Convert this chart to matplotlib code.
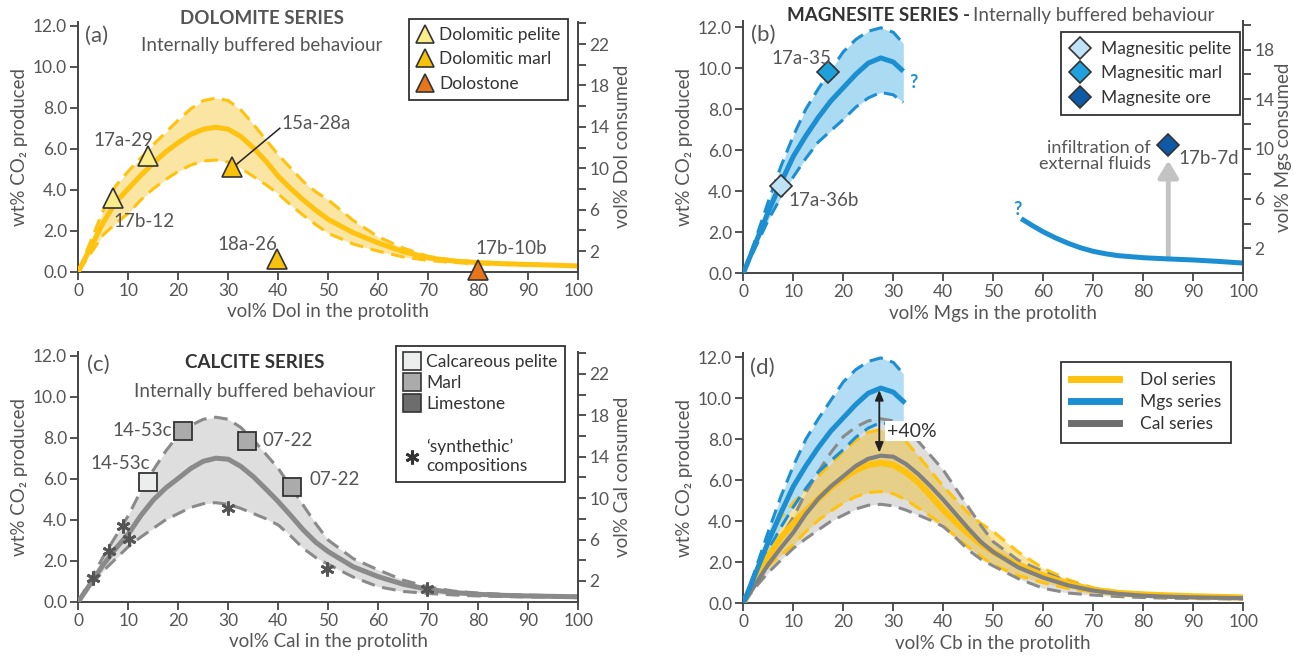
import matplotlib.pyplot as plt
from matplotlib.lines import Line2D

plt.rcParams['font.family'] = ['Lato', 'DejaVu Sans']

# ---- model curves (wt% CO2 produced vs vol% carbonate in protolith) ----
cb_x = [0, 2.5, 5, 7.5, 10, 12.5, 15, 17.5, 20, 22.5, 25, 27.5, 30, 32.5, 35,
        37.5, 40, 42.5, 45, 47.5, 50, 55, 60, 65, 70, 75, 80, 85, 90, 95, 100]

dol_mean = [0, 1.2, 2.4, 3.4, 4.05, 4.7, 5.3, 5.85, 6.3, 6.7, 6.95, 7.05, 6.95, 6.6, 6.05,
            5.4, 4.65, 4.05, 3.5, 3.0, 2.55, 1.9, 1.4, 0.98, 0.68, 0.52, 0.44, 0.39, 0.35, 0.32, 0.28]
dol_upper = [0, 1.5, 3.0, 4.2, 4.9, 5.55, 6.2, 6.8, 7.4, 7.95, 8.35, 8.47, 8.35, 7.9, 7.2,
             6.45, 5.7, 5.05, 4.4, 3.9, 3.5, 2.5, 1.7, 1.15, 0.75, 0.57, 0.48, 0.42, 0.38, 0.34, 0.3]
dol_lower = [0, 0.9, 1.8, 2.35, 2.85, 3.5, 4.05, 4.5, 4.9, 5.2, 5.4, 5.45, 5.35, 5.05, 4.65,
             4.25, 3.8, 3.25, 2.75, 2.3, 1.87, 1.35, 1.0, 0.72, 0.55, 0.45, 0.38, 0.35, 0.32, 0.3, 0.26]

cal_mean = [0, 0.9, 1.8, 2.6, 3.3, 4.2, 4.96, 5.55, 6.02, 6.5, 6.85, 7.0, 6.95, 6.6, 6.1,
            5.5, 4.88, 4.2, 3.5, 2.9, 2.44, 1.7, 1.22, 0.85, 0.6, 0.45, 0.36, 0.31, 0.28, 0.26, 0.24]
cal_upper = [0, 1.1, 2.2, 3.2, 4.2, 5.4, 6.42, 7.35, 8.13, 8.6, 8.9, 9.0, 8.9, 8.5, 7.9,
             7.2, 6.5, 5.6, 4.7, 3.8, 3.0, 2.1, 1.55, 1.05, 0.72, 0.52, 0.42, 0.36, 0.32, 0.3, 0.27]
cal_lower = [0, 0.8, 1.5, 2.1, 2.68, 3.15, 3.58, 4.0, 4.3, 4.6, 4.78, 4.83, 4.75, 4.55, 4.3,
             4.05, 3.74, 3.2, 2.6, 2.15, 1.82, 1.2, 0.73, 0.5, 0.4, 0.33, 0.28, 0.25, 0.23, 0.22, 0.2]

# panel (d) mean curves as drawn in the comparison plot
dol_mean_d = [0, 1.15, 2.3, 3.2, 3.9, 4.5, 5.1, 5.65, 6.1, 6.5, 6.75, 6.85, 6.75, 6.4, 5.9,
              5.25, 4.55, 3.95, 3.4, 2.9, 2.5, 1.85, 1.35, 0.95, 0.66, 0.5, 0.43, 0.38, 0.34, 0.31, 0.28]
cal_mean_d = [0, 0.95, 1.9, 2.7, 3.45, 4.35, 5.1, 5.7, 6.2, 6.7, 7.05, 7.2, 7.15, 6.8, 6.3,
              5.7, 5.05, 4.35, 3.65, 3.0, 2.5, 1.75, 1.25, 0.87, 0.62, 0.46, 0.37, 0.32, 0.29, 0.27, 0.25]

mgs_x = [0, 2.5, 5, 7.5, 10, 12.5, 15, 17.5, 20, 22.5, 25, 27.5, 30, 32]
mgs_mean = [0, 1.5, 3.0, 4.4, 5.7, 6.7, 7.6, 8.4, 9.05, 9.7, 10.25, 10.5, 10.3, 9.85]
mgs_upper = [0, 1.7, 3.5, 5.2, 6.7, 8.0, 9.0, 9.9, 10.8, 11.4, 11.8, 11.97, 11.75, 11.2]
mgs_lower = [0, 1.3, 2.6, 3.7, 4.7, 5.6, 6.4, 6.95, 7.5, 8.1, 8.55, 8.82, 8.7, 8.33]
mgs_tail_x = [56, 58, 60, 62.5, 65, 67.5, 70, 72.5, 75, 80, 85, 90, 95, 100]
mgs_tail_y = [2.6, 2.3, 2.02, 1.72, 1.46, 1.24, 1.07, 0.95, 0.86, 0.76, 0.7, 0.65, 0.58, 0.5]

# ---- samples ----
dol_pelite_x, dol_pelite_y = [7.0, 14.0], [3.58, 5.64]
dol_marl_x, dol_marl_y = [30.8, 39.8], [5.12, 0.6]
dolostone_x, dolostone_y = [80.0], [0.08]

mgs_pelite_x, mgs_pelite_y = [7.5], [4.25]
mgs_marl_x, mgs_marl_y = [17.0], [9.8]
mgs_ore_x, mgs_ore_y = [85.0], [6.25]

cal_pelite_x, cal_pelite_y = [13.9], [5.82]
cal_marl_x, cal_marl_y = [21.0, 33.7, 42.7], [8.34, 7.85, 5.58]
synth_x = [3.0, 6.1, 9.0, 10.2, 30.0, 49.7, 69.8]
synth_y = [1.14, 2.49, 3.69, 3.04, 4.55, 1.58, 0.6]

# ---- colours ----
YEL = '#ffc20e'
YEL_FILL = '#f5b700'
BLUE = '#1b8fd2'
BLUE_FILL = '#abdaf3'
GRAY = '#8a8a8a'
GRAY_FILL = '#dedede'
TXT = '#555555'
AX = '#444444'

W, H = 1293, 663
fig = plt.figure(figsize=(W / 100, H / 100), dpi=100)


def px_axes(x0, x1, y_top, y_bot):
    return fig.add_axes([x0 / W, 1 - y_bot / H, (x1 - x0) / W, (y_bot - y_top) / H])


def style(ax, xlabel, ytop):
    ax.set_xlim(0, 100)
    ax.set_ylim(0, ytop)
    ax.set_xticks(range(0, 101, 10))
    ax.set_yticks([0, 2, 4, 6, 8, 10, 12])
    ax.set_yticklabels([f'{v:.1f}' for v in [0, 2, 4, 6, 8, 10, 12]])
    ax.tick_params(direction='out', length=6, width=1.3, colors=AX, labelcolor=TXT,
                   labelsize=12.5, pad=2)
    ax.spines['top'].set_visible(False)
    ax.spines['right'].set_visible(False)
    for s in ['left', 'bottom']:
        ax.spines[s].set_color(AX)
        ax.spines[s].set_linewidth(1.4)
    ax.set_xlabel(xlabel, fontsize=13.5, color=TXT, labelpad=3)
    ax.set_ylabel('wt% CO₂ produced', fontsize=13.5, color=TXT, labelpad=4)


def right_axis(ax, factor, label, majors, minors, pad=3):
    r = ax.twinx()
    lo, hi = ax.get_ylim()
    r.set_ylim(lo * factor, hi * factor)
    r.set_yticks(majors)
    r.set_yticks(minors, minor=True)
    r.tick_params(which='both', direction='out', length=6, width=1.3, colors=AX,
                  labelcolor=TXT, labelsize=12.5, pad=2)
    for s in ['top', 'left', 'bottom']:
        r.spines[s].set_visible(False)
    r.spines['right'].set_color(AX)
    r.spines['right'].set_linewidth(1.4)
    r.set_ylabel(label, fontsize=13.5, color=TXT, labelpad=pad)
    return r


def band(ax, x, lo, mid, hi, col, fill, fill_alpha=1.0, mid_lw=3.6, z=2):
    ax.fill_between(x, lo, hi, color=fill, alpha=fill_alpha, lw=0, zorder=z)
    ax.plot(x, hi, color=col, lw=2.2, dashes=(4.5, 2.5), zorder=z + 1)
    ax.plot(x, lo, color=col, lw=2.2, dashes=(4.5, 2.5), zorder=z + 1)
    ax.plot(x, mid, color=col, lw=mid_lw, solid_capstyle='butt', zorder=z + 2)


def legend(ax, handles, labels, anchor, **kw):
    lg = ax.legend(handles, labels, loc='upper left', bbox_to_anchor=anchor,
                   borderaxespad=0, fancybox=False, framealpha=1, edgecolor='#333333',
                   fontsize=12.5, labelcolor='#333333', **kw)
    lg.get_frame().set_linewidth(1.3)
    lg.set_zorder(20)
    return lg


def mk(marker, face, size):
    return Line2D([], [], marker=marker, color='none', markerfacecolor=face,
                  markeredgecolor='#333333', markeredgewidth=1.2, markersize=size)


# ================= (a) Dolomite =================
ax = px_axes(78.3, 578.3, 21.7, 271.7)
style(ax, 'vol% Dol in the protolith', 12.2)
band(ax, cb_x, dol_lower, dol_mean, dol_upper, YEL, YEL_FILL, fill_alpha=0.36)
tri = dict(marker='^', ls='none', mec='#333333', mew=1.2, ms=14, zorder=6, clip_on=False)
ax.plot(dol_pelite_x, dol_pelite_y, mfc='#fbee8a', **tri)
ax.plot(dol_marl_x, dol_marl_y, mfc='#f7c20c', **tri)
ax.plot(dolostone_x, dolostone_y, mfc='#e8751a', **tri)
lab = dict(fontsize=13.5, color=TXT, va='center', zorder=7)
ax.text(15, 6.42, '17a-29', ha='right', **lab)
ax.text(7.0, 2.44, '17b-12', ha='left', **lab)
ax.text(40.7, 7.24, '15a-28a', ha='left', **lab)
ax.plot([31.7, 40.3], [5.25, 7.0], color='#222222', lw=1.1, zorder=7)
ax.text(39.8, 1.35, '18a-26', ha='right', **lab)
ax.text(79.5, 1.15, '17b-10b', ha='left', **lab)
ax.text(1.3, 11.5, '(a)', fontsize=16, color=TXT, va='center')
ax.text(36.7, 12.35, 'DOLOMITE SERIES', fontsize=13.5, fontweight='bold', color=TXT,
        ha='center', va='center', clip_on=False)
ax.text(36.7, 11.05, 'Internally buffered behaviour', fontsize=13.5, color=TXT,
        ha='center', va='center')
right_axis(ax, 1.98, 'vol% Dol consumed', [2, 6, 10, 14, 18, 22], [4, 8, 12, 16, 20, 24])
legend(ax, [mk('^', '#fbee8a', 13), mk('^', '#f7c20c', 13), mk('^', '#e8751a', 13)],
       ['Dolomitic pelite', 'Dolomitic marl', 'Dolostone'], (0.661, 1.011),
       handlelength=1.0, handletextpad=0.3, labelspacing=0.5, borderpad=0.45)

# ================= (b) Magnesite =================
ax = px_axes(743.3, 1243.3, 21.0, 273.3)
style(ax, 'vol% Mgs in the protolith', 12.3)
band(ax, mgs_x, mgs_lower, mgs_mean, mgs_upper, BLUE, BLUE_FILL)
ax.plot(mgs_tail_x, mgs_tail_y, color=BLUE, lw=3.6, zorder=4)
ax.annotate('', xy=(85.0, 5.5), xytext=(85.0, 0.75),
            arrowprops=dict(arrowstyle='-|>,head_width=0.6,head_length=1.0',
                            color='#c3c3c3', lw=3.5, shrinkA=0, shrinkB=0), zorder=3)
dia = dict(marker='D', ls='none', mec='#333333', mew=1.2, ms=11, zorder=6)
ax.plot(mgs_pelite_x, mgs_pelite_y, mfc='#bfe2f7', **dia)
ax.plot(mgs_marl_x, mgs_marl_y, mfc='#1ea0dd', **dia)
ax.plot(mgs_ore_x, mgs_ore_y, mfc='#0f5aa6', **dia)
ax.text(17.7, 10.45, '17a-35', ha='right', **lab)
ax.text(9.0, 3.54, '17a-36b', ha='left', **lab)
ax.text(87.0, 5.6, '17b-7d', ha='left', **lab)
ax.text(81.5, 5.7, 'infiltration of\nexternal fluids', ha='right', va='center',
        fontsize=13, color=TXT, linespacing=1.0)
ax.text(34, 9.3, '?', fontsize=13, fontweight='bold', color=BLUE, ha='center', va='center')
ax.text(54.8, 3.1, '?', fontsize=13, fontweight='bold', color=BLUE, ha='center', va='center')
ax.text(1.5, 11.6, '(b)', fontsize=16, color=TXT, va='center')
ax.text(45.3, 12.55, 'MAGNESITE SERIES -', fontsize=13.5, fontweight='bold', color='#333333',
        ha='right', va='center', clip_on=False)
ax.text(46.0, 12.55, 'Internally buffered behaviour', fontsize=13.5, color=TXT,
        ha='left', va='center', clip_on=False)
right_axis(ax, 1.65, 'vol% Mgs consumed', [2, 6, 10, 14, 18], [4, 8, 12, 16, 20], pad=0)
legend(ax, [mk('D', '#bfe2f7', 11), mk('D', '#1ea0dd', 11), mk('D', '#0f5aa6', 11)],
       ['Magnesitic pelite', 'Magnesitic marl', 'Magnesite ore'], (0.635, 0.956),
       handlelength=1.2, handletextpad=0.6, labelspacing=0.5, borderpad=0.5)

# ================= (c) Calcite =================
ax = px_axes(78.3, 578.3, 351.6, 601.7)
style(ax, 'vol% Cal in the protolith', 12.2)
band(ax, cb_x, cal_lower, cal_mean, cal_upper, GRAY, GRAY_FILL)
sq = dict(marker='s', ls='none', mec='#333333', mew=1.3, ms=13, zorder=6)
ax.plot(cal_pelite_x, cal_pelite_y, mfc='#eceeed', **sq)
ax.plot(cal_marl_x, cal_marl_y, mfc='#ababab', **sq)
ax.plot(synth_x, synth_y, marker=(6, 2, 0), ls='none', color='#555555', mew=2.0, ms=10,
        zorder=6)
ax.text(18.8, 8.37, '14-53c', ha='right', **lab)
ax.text(36.9, 7.88, '07-22', ha='left', **lab)
ax.text(14.3, 6.72, '14-53c', ha='right', **lab)
ax.text(46.2, 5.94, '07-22', ha='left', **lab)
ax.text(1.7, 11.55, '(c)', fontsize=16, color=TXT, va='center')
ax.text(35.2, 11.65, 'CALCITE SERIES', fontsize=13.5, fontweight='bold', color='#333333',
        ha='center', va='center')
ax.text(35.2, 10.25, 'Internally buffered behaviour', fontsize=13.5, color=TXT,
        ha='center', va='center')
right_axis(ax, 1.98, 'vol% Cal consumed', [2, 6, 10, 14, 18, 22], [4, 8, 12, 16, 20, 24])
blank = Line2D([], [], color='none')
star = Line2D([], [], marker=(6, 2, 0), color='#333333', ls='none', mew=2.0, ms=10)
legend(ax, [mk('s', '#eceeed', 13), mk('s', '#ababab', 13), mk('s', '#6d6d6d', 13), blank, star],
       ['Calcareous pelite', 'Marl', 'Limestone', '', '‘synthethic’\ncompositions'],
       (0.635, 1.022), handlelength=1.0, handletextpad=0.3, labelspacing=0.3, borderpad=0.45)

# ================= (d) Comparison =================
ax = px_axes(743.3, 1243.3, 353.2, 603.3)
style(ax, 'vol% Cb in the protolith', 12.2)
ax.fill_between(cb_x, cal_lower, cal_upper, color=GRAY_FILL, lw=0, zorder=1)
ax.fill_between(cb_x, dol_lower, dol_upper, color=YEL_FILL, alpha=0.38, lw=0, zorder=2)
ax.fill_between(mgs_x, mgs_lower, mgs_upper, color=BLUE_FILL, alpha=0.9, lw=0, zorder=3)
for ys in (dol_lower, dol_upper):
    ax.plot(cb_x, ys, color=YEL, lw=2.2, dashes=(4.5, 2.5), zorder=4)
for ys in (cal_lower, cal_upper):
    ax.plot(cb_x, ys, color=GRAY, lw=2.2, dashes=(4.5, 2.5), zorder=5)
for ys in (mgs_lower, mgs_upper):
    ax.plot(mgs_x, ys, color=BLUE, lw=2.2, dashes=(4.5, 2.5), zorder=5)
ax.plot(cb_x, dol_mean_d, color=YEL, lw=4.5, zorder=6)
ax.plot(cb_x, cal_mean_d, color='#808080', lw=3.0, zorder=7)
ax.plot(mgs_x, mgs_mean, color=BLUE, lw=3.6, zorder=7)
ax.annotate('', xy=(27.2, 10.4), xytext=(27.2, 7.35),
            arrowprops=dict(arrowstyle='<|-|>,head_width=0.25,head_length=0.6',
                            color='#222222', lw=1.3, shrinkA=0, shrinkB=0), zorder=9)
ax.text(28.7, 8.4, '+40%', fontsize=14, color='#333333', ha='left', va='center', zorder=9,
        bbox=dict(facecolor='white', edgecolor='none', pad=1.0))
ax.text(1.3, 11.5, '(d)', fontsize=16, color=TXT, va='center')
legend(ax, [Line2D([], [], color=YEL, lw=5), Line2D([], [], color=BLUE, lw=5),
            Line2D([], [], color='#6d6d6d', lw=5)],
       ['Dol series', 'Mgs series', 'Cal series'], (0.635, 0.966),
       handlelength=2.75, handletextpad=1.2, labelspacing=0.35, borderpad=0.6)

fig.savefig('out.png', dpi=100)
